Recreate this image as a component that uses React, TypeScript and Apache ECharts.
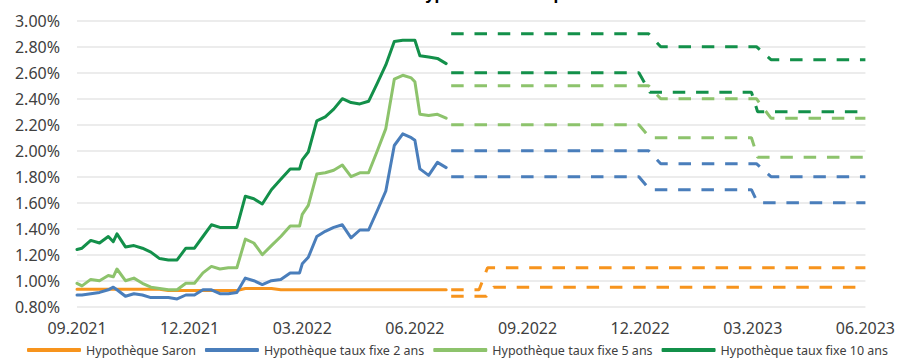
import React, { useEffect, useRef } from "react";
import * as echarts from "echarts";

// ---- axis ----
const tickLabels = ["09.2021", "12.2021", "03.2022", "06.2022", "09.2022", "12.2022", "03.2023", "06.2023"];
const axisStart = "2021-09-01";

// ---- historical (weekly) ----
const histDates = [
  "2021-09-01", "2021-09-05", "2021-09-12", "2021-09-19", "2021-09-26", "2021-09-30", "2021-10-03", "2021-10-10",
  "2021-10-17", "2021-10-24", "2021-10-31", "2021-11-07", "2021-11-14", "2021-11-21", "2021-11-28", "2021-12-05",
  "2021-12-12", "2021-12-19", "2021-12-26", "2022-01-02", "2022-01-09", "2022-01-16", "2022-01-23", "2022-01-30",
  "2022-02-06", "2022-02-13", "2022-02-20", "2022-02-27", "2022-03-01", "2022-03-06", "2022-03-13", "2022-03-20",
  "2022-03-27", "2022-04-03", "2022-04-10", "2022-04-17", "2022-04-24", "2022-05-01", "2022-05-08", "2022-05-15",
  "2022-05-22", "2022-05-29", "2022-06-01", "2022-06-05", "2022-06-12", "2022-06-19", "2022-06-26",
];
const saron = [
  0.935, 0.935, 0.935, 0.935, 0.935, 0.935, 0.935, 0.935, 0.935, 0.935, 0.935, 0.935,
  0.925, 0.925, 0.925, 0.925, 0.925, 0.925, 0.925, 0.925, 0.925,
  0.94, 0.94, 0.94, 0.94,
  0.93, 0.93, 0.93, 0.93, 0.93, 0.93, 0.93, 0.93, 0.93, 0.93, 0.93, 0.93, 0.93, 0.93, 0.93, 0.93, 0.93, 0.93,
  0.93, 0.93, 0.93, 0.93,
];
const fixe2 = [
  0.89, 0.89, 0.9, 0.91, 0.93, 0.95, 0.93, 0.88, 0.9, 0.89, 0.87, 0.87, 0.87, 0.86, 0.89, 0.89, 0.93, 0.93, 0.9,
  0.9, 0.91, 1.02, 1.0, 0.97, 1.0, 1.01, 1.06, 1.06, 1.13, 1.18, 1.34, 1.38, 1.41, 1.43, 1.33, 1.39, 1.39, 1.54,
  1.69, 2.04, 2.13, 2.1, 2.08, 1.86, 1.81, 1.91, 1.87,
];
const fixe5 = [
  0.98, 0.96, 1.01, 1.0, 1.04, 1.03, 1.09, 1.0, 1.02, 0.98, 0.95, 0.94, 0.93, 0.93, 0.98, 0.98, 1.06, 1.11, 1.09,
  1.1, 1.1, 1.32, 1.29, 1.2, 1.27, 1.34, 1.42, 1.42, 1.51, 1.58, 1.82, 1.83, 1.85, 1.89, 1.8, 1.83, 1.83, 2.0,
  2.17, 2.55, 2.58, 2.56, 2.53, 2.28, 2.27, 2.28, 2.25,
];
const fixe10 = [
  1.24, 1.25, 1.31, 1.29, 1.34, 1.3, 1.36, 1.26, 1.27, 1.25, 1.22, 1.17, 1.16, 1.16, 1.25, 1.25, 1.34, 1.43, 1.41,
  1.41, 1.41, 1.65, 1.63, 1.59, 1.7, 1.78, 1.86, 1.86, 1.93, 1.99, 2.23, 2.26, 2.32, 2.4, 2.37, 2.36, 2.38, 2.52,
  2.66, 2.84, 2.85, 2.85, 2.85, 2.73, 2.72, 2.71, 2.67,
];

// ---- forecasts (dashed, high / low scenario) ----
const saronHigh: [string, number][] = [["2022-06-30", 0.93], ["2022-07-23", 0.93], ["2022-07-30", 1.1], ["2023-06-01", 1.1]];
const saronLow: [string, number][] = [["2022-06-30", 0.88], ["2022-07-29", 0.88], ["2022-08-04", 0.95], ["2023-06-01", 0.95]];
const fixe2High: [string, number][] = [["2022-06-30", 2.0], ["2022-12-08", 2.0], ["2022-12-18", 1.9], ["2023-03-04", 1.9], ["2023-03-16", 1.8], ["2023-06-01", 1.8]];
const fixe2Low: [string, number][] = [["2022-06-30", 1.8], ["2022-11-30", 1.8], ["2022-12-09", 1.7], ["2023-02-28", 1.7], ["2023-03-05", 1.6], ["2023-06-01", 1.6]];
const fixe5High: [string, number][] = [["2022-06-30", 2.5], ["2022-12-08", 2.5], ["2022-12-18", 2.4], ["2023-03-04", 2.4], ["2023-03-16", 2.25], ["2023-06-01", 2.25]];
const fixe5Low: [string, number][] = [["2022-06-30", 2.2], ["2022-11-30", 2.2], ["2022-12-09", 2.1], ["2023-02-28", 2.1], ["2023-03-05", 1.95], ["2023-06-01", 1.95]];
const fixe10High: [string, number][] = [["2022-06-30", 2.9], ["2022-12-08", 2.9], ["2022-12-18", 2.8], ["2023-03-04", 2.8], ["2023-03-16", 2.7], ["2023-06-01", 2.7]];
const fixe10Low: [string, number][] = [["2022-06-30", 2.6], ["2022-11-30", 2.6], ["2022-12-09", 2.45], ["2023-02-28", 2.45], ["2023-03-05", 2.3], ["2023-06-01", 2.3]];

const names = ["Hypothèque Saron", "Hypothèque taux fixe 2 ans", "Hypothèque taux fixe 5 ans", "Hypothèque taux fixe 10 ans"];
const colors = ["#F7941D", "#4A7EBB", "#8DC36C", "#13904A"];

function toMonths(s: string): number {
  const [y, m, d] = s.split("-").map(Number);
  const [y0, m0] = axisStart.split("-").map(Number);
  const dim = new Date(y, m, 0).getDate();
  return (y - y0) * 12 + (m - m0) + (d - 1) / dim;
}

export default function App() {
  const ref = useRef<HTMLDivElement>(null);
  useEffect(() => {
    if (!ref.current) return;
    const chart = echarts.init(ref.current, null, { renderer: "svg" });
    const hist = [saron, fixe2, fixe5, fixe10];
    const fc = [
      [saronHigh, saronLow],
      [fixe2High, fixe2Low],
      [fixe5High, fixe5Low],
      [fixe10High, fixe10Low],
    ];
    const series: any[] = [];
    hist.forEach((vals, i) => {
      series.push({
        name: names[i],
        type: "line",
        symbol: "none",
        z: 2 + i,
        data: vals.map((v, k) => [toMonths(histDates[k]), v]),
        lineStyle: { color: colors[i], width: 3, cap: "round", join: "round" },
        itemStyle: { color: colors[i] },
      });
    });
    fc.forEach((pair, i) => {
      pair.forEach((pts) => {
        series.push({
          name: names[i],
          type: "line",
          symbol: "none",
          z: 2 + i,
          data: pts.map(([d, v]) => [toMonths(d), v]),
          lineStyle: { color: colors[i], width: 3, type: [12.5, 10.8], cap: "butt" },
          itemStyle: { color: colors[i] },
        });
      });
    });
    chart.setOption({
      animation: false,
      backgroundColor: "#ffffff",
      textStyle: { fontFamily: "Noto Sans" },
      title: {
        text: "Évolution des taux hypothécaires et prévisions",
        left: "center",
        top: -20,
        textStyle: { fontSize: 16, fontWeight: "bold", color: "#000", fontFamily: "Noto Sans" },
      },
      grid: { left: 77, right: 28, top: 20.7, bottom: 51.3 },
      xAxis: {
        type: "value",
        min: 0,
        max: 21,
        interval: 3,
        axisLine: { show: false },
        axisTick: { show: false },
        splitLine: { show: false },
        axisLabel: {
          margin: 13,
          fontSize: 16,
          color: "#404040",
          formatter: (v: number) => tickLabels[Math.round(v / 3)] ?? "",
        },
      },
      yAxis: {
        type: "value",
        min: 0.8,
        max: 3.0,
        interval: 0.2,
        axisLine: { show: false },
        axisTick: { show: false },
        splitLine: { lineStyle: { color: "#ECECEC", width: 2 } },
        axisLabel: {
          margin: 17,
          fontSize: 16,
          color: "#404040",
          formatter: (v: number) => v.toFixed(2) + "%",
        },
      },
      legend: {
        data: names,
        left: 27,
        top: 342,
        padding: 0,
        icon: "roundRect",
        itemWidth: 54,
        itemHeight: 4,
        itemGap: 9,
        textStyle: { fontSize: 12.5, color: "#404040", fontFamily: "Noto Sans", lineHeight: 16 },
      },
      series,
    });
    return () => chart.dispose();
  }, []);
  return <div ref={ref} style={{ position: "fixed", left: 0, top: 0, width: 898, height: 358 }} />;
}
